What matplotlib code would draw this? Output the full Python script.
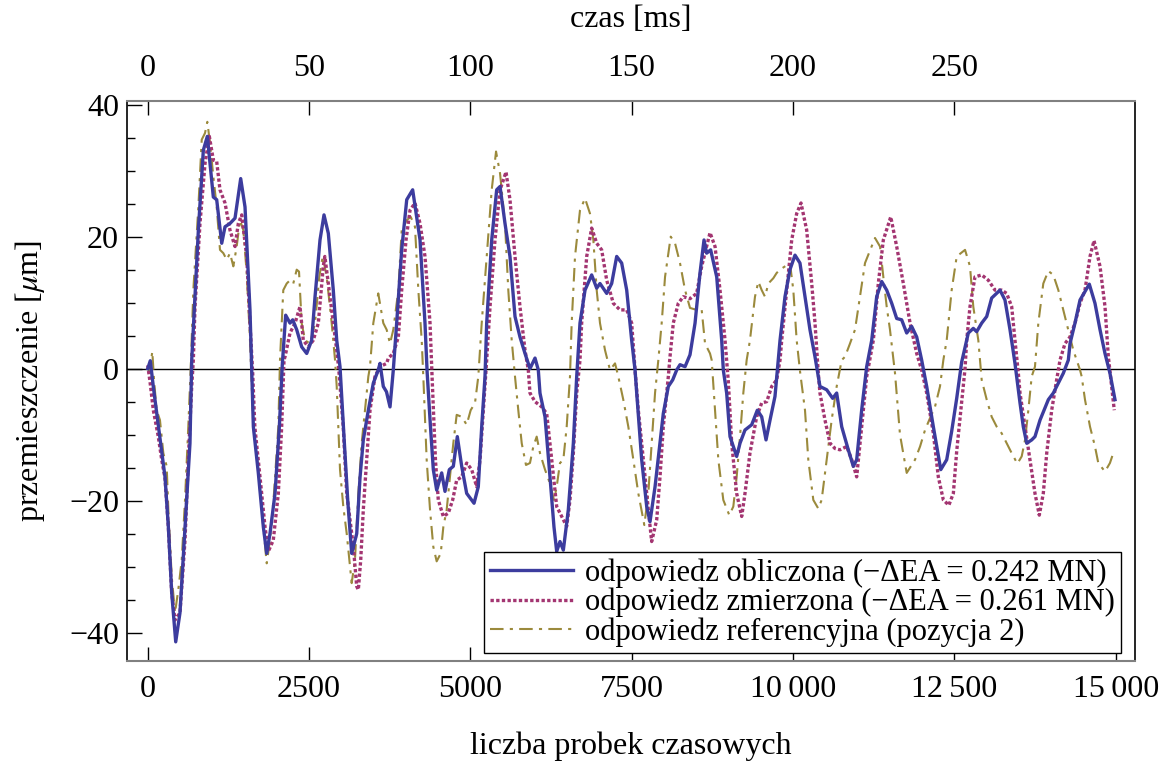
import matplotlib
matplotlib.use("Agg")
import matplotlib.pyplot as plt
from matplotlib.ticker import MultipleLocator, FuncFormatter

# probe index (samples) and displacement [um]
calc_x = [0, 40, 90, 268, 320, 372, 434, 500, 578, 655, 682, 785, 862, 924, 1017, 1069, 1147, 1198,
          1275, 1353, 1441, 1508, 1585, 1611, 1637, 1714, 1792, 1844, 1895, 1973, 2040, 2085, 2138,
          2205, 2247, 2309, 2386, 2464, 2541, 2593, 2670, 2732, 2799, 2876, 2929, 2980, 3040, 3100,
          3161, 3239, 3290, 3341, 3419, 3496, 3573, 3600, 3651, 3700, 3755, 3806, 3858, 3936, 4014,
          4106, 4220, 4297, 4330, 4380, 4426, 4478, 4556, 4607, 4674, 4736, 4798, 4866, 4943, 5057,
          5123, 5176, 5227, 5253, 5331, 5408, 5460, 5537, 5614, 5692, 5769, 5847, 5924, 6002, 6053,
          6079, 6157, 6234, 6296, 6338, 6389, 6441, 6518, 6596, 6648, 6699, 6777, 6880, 6958, 7009,
          7113, 7190, 7268, 7345, 7423, 7500, 7552, 7578, 7655, 7733, 7784, 7862, 7939, 7990, 8068,
          8136, 8198, 8249, 8327, 8404, 8482, 8559, 8621, 8662, 8724, 8818, 8895, 8920, 8972, 9024,
          9127, 9179, 9256, 9360, 9447, 9515, 9582, 9644, 9721, 9772, 9799, 9876, 9953, 10031, 10108,
          10186, 10263, 10341, 10383, 10418, 10522, 10615, 10677, 10755, 10857, 10935, 10987, 11064,
          11142, 11220, 11297, 11375, 11452, 11530, 11607, 11684, 11762, 11839, 11917, 11994, 12072,
          12175, 12290, 12382, 12459, 12537, 12614, 12717, 12794, 12846, 12924, 13002, 13079, 13208,
          13285, 13363, 13440, 13518, 13569, 13622, 13699, 13750, 13828, 13957, 14034, 14112, 14189,
          14267, 14293, 14370, 14448, 14592, 14680, 14758, 14835, 14912, 14990]
calc_y = [0, 1.2, -3.0, -16.4, -24, -34, -41.4, -37, -24, -11.3, 1.3, 21, 33.1, 35.2, 26, 25.6, 19, 21.5,
          22, 22.8, 28.8, 24.5, 8.9, 0.3, -8.8, -15.8, -24, -28, -25, -18.9, -8.8, 0.5, 8.1,
          6.9, 7.4, 5.9, 3.3, 2.3, 4.3, 10.9, 19.5, 23.3, 20.5, 11.9, 4.3, 0.3, -10, -20,
          -28, -25, -16.5, -10.8, -6.3, -2.2, -0.2, 0.8, -2.7, -3.5, -5.8, -0.2, 6.9, 18, 25.6,
          27.1, 19.5, 6.9, -0.5, -8.5, -15.3, -18.4, -15.8, -18.6, -15.3, -14.8, -10.3, -14.8, -18.9, -20.4,
          -17.9, -8.8, -1.2, 6.9, 19.5, 27.1, 27.6, 22, 17, 7.9, 4.8, 2.3, 0, 1.6, -0.2,
          -3.7, -7.3, -16.4, -24, -27.7, -26.2, -27.5, -21.4, -11.3, -1.2, 6.9, 11.9, 14.2, 12.2, 12.9,
          11.4, 12.9, 17, 16, 11.9, 4.3, -0.2, -3.7, -13.8, -20.9, -23.2, -17.9, -11.3, -6.8, -2.7,
          -1.7, -0.2, 0.6, 0.3, 2.1, 6.9, 14.5, 19.5, 17.5, 18, 13.9, 4.3, -0.2, -3.7, -10.3,
          -13.3, -11.3, -9.3, -8.5, -6.3, -7.3, -10.8, -7.8, -4.2, 1.3, 4.3, 10.9, 15, 17.2, 16,
          10.9, 5.9, 1.8, -0.7, -2.7, -3.2, -4.5, -3.7, -8.8, -12.3, -14.8, -13.8, -6.3,
          0.3, 4.3, 10.9, 13.2, 11.9, 9.9, 7.6, 7.4, 5.4, 6.4, 4.8, 1.3, -2.7,
          -8.8, -15.3, -13.8, -9.5, -4.5, 1.0, 5.4, 6.1, 5.6, 6.9, 7.9, 10.7, 11.9,
          10.4, 5.9, 0.8, -5.2, -8.8, -11.3, -10.8, -10.3, -7.8, -4.7, -3.7, -2.2, -0.7,
          1.3, 3.8, 6.9, 10.4, 12.8, 9.9, 5.9, 2.3, -0.7, -4.7]

meas_x = [0, 36, 87, 164, 217, 268, 320, 372, 423, 500, 578, 629, 682, 707, 733, 810, 888, 955, 1017,
          1069, 1120, 1198, 1275, 1353, 1404, 1457, 1534, 1585, 1627, 1660, 1740, 1818, 1869, 1946,
          2024, 2076, 2112, 2128, 2205, 2283, 2360, 2411, 2489, 2566, 2644, 2721, 2745, 2799, 2876,
          2929, 2960, 3030, 3084, 3187, 3239, 3264, 3301, 3341, 3394, 3445, 3522, 3600, 3703, 3729,
          3806, 3884, 3936, 4003, 4065, 4142, 4220, 4297, 4375, 4410, 4460, 4503, 4581, 4658, 4726,
          4788, 4866, 4943, 5021, 5098, 5150, 5201, 5253, 5305, 5382, 5460, 5553, 5614, 5692, 5769,
          5847, 5898, 5924, 6002, 6106, 6183, 6261, 6338, 6416, 6493, 6544, 6596, 6648, 6699, 6725,
          6803, 6880, 6958, 7035, 7113, 7216, 7319, 7423, 7500, 7552, 7603, 7681, 7758, 7810, 7888,
          7939, 7990, 8068, 8094, 8145, 8222, 8300, 8404, 8507, 8585, 8714, 8792, 8869, 8947, 8998,
          9050, 9127, 9205, 9256, 9333, 9437, 9515, 9593, 9670, 9747, 9799, 9825, 9902, 9980, 10057,
          10124, 10212, 10290, 10341, 10392, 10418, 10496, 10573, 10651, 10728, 10832, 10910, 10987,
          11064, 11142, 11245, 11322, 11400, 11515, 11607, 11710, 11814, 11917, 11994, 12072, 12175,
          12252, 12330, 12415, 12485, 12537, 12614, 12666, 12692, 12743, 12820, 12924, 13027, 13130,
          13234, 13311, 13389, 13440, 13492, 13518, 13596, 13673, 13750, 13817, 13879, 13932, 14009,
          14086, 14138, 14215, 14293, 14370, 14448, 14525, 14603, 14665, 14758, 14835, 14887, 14979]
meas_y = [0.5, -2.0, -6.3, -10.3, -13.8, -16.6, -24, -34, -38.1, -37, -26, -13.8, -2.7, 1.3, 9.4, 22, 31.1, 35.2, 31.6,
          31.4, 27.1, 25.1, 21, 18.5, 22, 23.3, 17, 6.9, -0.7, -8.8, -16.4, -24, -27.7, -26,
          -18.9, -8.8, 1.3, 1.8, 5.4, 6.9, 9.4, 4.3, 3.3, 4.3, 6.9, 15.5, 17, 12.9, 6.9,
          2.8, 0, -8.8, -18.9, -27, -33, -33.5, -29, -21.4, -13.8, -6.3, -1.2, 0.3, 0.8, 1.6,
          2.3, 4.8, 11.9, 19.5, 24, 25.1, 22, 17, 6.9, -2, -14, -19.9, -22.4, -21.9, -19.9,
          -16.9, -16.4, -14.3, -15.3, -17.9, -13.8, -6.3, 1.3, 9.4, 19.5, 27.1, 29.8, 25.6, 17, 9.4,
          2.8, -0.2, -3.7, -5, -5.8, -6.8, -13.8, -20.9, -22.4, -23.9, -19.9, -12.8, -3.7, 1.3, 6.9,
          17, 21.3, 19, 18, 13.4, 9.9, 8.9, 8.9, 6.9, -0.2, -6.3, -13.8, -21.4, -26.2, -22.9,
          -16.4, -8.8, -1.2, 1.8, 6.9, 9.9, 10.9, 10.6, 11.4, 15.5, 20.6, 18.5, 11.9, 4.3, -2,
          -11.3, -18.9, -22.4, -18.9, -12.8, -7.3, -5.2, -5, -2.7, -1.7, 1.3, 4.3, 11.9, 19.5, 23.5,
          25.1, 21, 12.9, 6.9, -0.7, -3.7, -7.8, -11.3, -12.1, -12.3, -11.8, -13.8, -16.4,
          -8.8, -1.2, 4.3, 12.9, 19.5, 23, 18.5, 12.9, 6.9, 2.3, -0.2, -3.7, -9.8,
          -16.4, -19.9, -20.7, -18.9, -12.5, -5, 0, 4.3, 9.4, 13.9, 14.2, 13.4, 11.9,
          11.9, 11.4, 9.4, 4.3, -0.7, -3.7, -8.8, -13.8, -18.9, -22.2, -18.9, -12.8, -6.3,
          -1.7, 1.3, 3.8, 4.8, 6.9, 9.9, 11.9, 17, 19.4, 15.5, 9.4, 1.8, -6.3]

ref_x = [0, 30, 71, 100, 139, 190, 242, 294, 320, 372, 423, 474, 527, 578, 629, 671, 707, 785, 837, 888,
         924, 965, 1017, 1069, 1120, 1172, 1224, 1275, 1327, 1379, 1430, 1482, 1534, 1585, 1637, 1699,
         1766, 1844, 1895, 1957, 2024, 2050, 2101, 2154, 2205, 2256, 2309, 2345, 2386, 2438, 2515, 2593,
         2659, 2712, 2774, 2851, 2903, 2929, 2954, 2980, 3031, 3084, 3135, 3161, 3212, 3264, 3316, 3367,
         3419, 3445, 3496, 3573, 3651, 3703, 3755, 3806, 3884, 3936, 4014, 4076, 4142, 4194, 4246, 4271,
         4323, 4375, 4426, 4478, 4541, 4581, 4633, 4684, 4736, 4788, 4866, 4943, 5005, 5072, 5123, 5176,
         5253, 5331, 5398, 5460, 5537, 5588, 5641, 5692, 5743, 5796, 5862, 5924, 5976, 6028, 6079, 6157,
         6234, 6296, 6338, 6389, 6441, 6493, 6544, 6570, 6622, 6699, 6777, 6854, 6906, 6958, 7009, 7087,
         7164, 7242, 7293, 7370, 7448, 7526, 7603, 7696, 7758, 7810, 7862, 7913, 7965, 8017, 8105, 8172,
         8249, 8327, 8404, 8507, 8585, 8637, 8714, 8740, 8792, 8843, 8920, 9013, 9075, 9127, 9179, 9230,
         9282, 9333, 9411, 9463, 9515, 9566, 9618, 9695, 9747, 9799, 9876, 9953, 10005, 10057, 10110,
         10186, 10237, 10315, 10392, 10444, 10522, 10599, 10677, 10755, 10806, 10883, 10961, 11038,
         11116, 11271, 11349, 11400, 11452, 11503, 11581, 11658, 11762, 11891, 11969, 12046, 12123,
         12200, 12278, 12330, 12382, 12459, 12537, 12666, 12743, 12794, 12872, 12924, 13002, 13079,
         13157, 13234, 13311, 13389, 13477, 13544, 13596, 13647, 13699, 13750, 13802, 13879, 13957,
         14034, 14112, 14189, 14267, 14344, 14448, 14474, 14525, 14603, 14680, 14731, 14835, 14912, 14963]
ref_y = [0, -0.5, 2.6, -2, -6.3, -7.8, -12.8, -14.8, -21.4, -31.5, -37, -33.5, -29, -19.9, -8.8, 1.3, 11.9, 24.5, 34.7, 35.7,
         37.4, 34.2, 29.1, 24.5, 18, 17.5, 16.5, 17.5, 15.5, 18.5, 22.5, 21, 14.5, 4.3, -8.8, -13.8,
         -21.4, -29.5, -26, -18.9, -8.8, 1.3, 11.9, 12.9, 13.4, 12.9, 15, 14.7, 6.9, 4.3, 3.8, 6.9,
         13.9, 17, 13.9, 6.9, 1.3, -2.7, -8.8, -15.3, -20.9, -25, -30, -32.5, -29, -18.9, -11.3, -6.3,
         -1.2, 0.3, 6.9, 11.4, 6.9, 5.9, 3.8, 5.9, 11.9, 21, 22.5, 23, 21.5, 11.9, 4.3, -1.2,
         -13.8, -21.4, -27, -29.2, -28, -24, -21.4, -16.4, -11.3, -7, -7.3, -8.5, -6.3, -5.2, -1.2, 6.9,
         17, 27.1, 32.9, 29.6, 22, 11.9, 4.3, -1.2, -6.3, -11.3, -14.6, -14.3, -11.8, -10.3, -12.8, -15.3,
         -17.4, -19.9, -17.9, -14.3, -13.8, -8.8, -1.2, 6.9, 17, 24, 25.8, 23.5, 19.5, 11.9, 6.9, 2.8,
         -0.2, 0.8, -1.2, -4.7, -8.8, -13.8, -18.9, -23.7, -18.9, -11.3, -3.7, 1.3, 6.9, 13.9, 20, 19,
         16, 11.9, 9.2, 8.9, 8.9, 3.8, 2.3, 1.3, -6.3, -13.8, -19.9, -22.2, -20.9, -16.4, -10.3, -3.7,
         1.3, 4.3, 10.9, 13.2, 11.9, 10.9, 12.9, 13.7, 14.5, 15, 15.5, 16, 11.9, 4.3, -0.5,
         -6.3, -13.8, -19.9, -21.2, -19.9, -13.8, -7.8, -2.7, 1.3, 1.8, 3.8, 5.9, 10.9,
         16, 19.8, 18.5, 13.9, 9.4, 5.9, -0.7, -10, -15.8, -13.8, -11.8, -9.3, -7.5,
         -5.8, -2.7, 1.3, 4.3, 11.9, 17, 18, 15.5, 9.4, 4.3, -1.7, -4.7, -7.3,
         -8.8, -9.8, -11.3, -12.8, -14.4, -13.3, -10.8, -6.3, -1.2, 0.3, 6.9, 12.9, 14.8,
         14.2, 11.9, 8.9, 5.9, 2.8, -0.2, -1.2, -4.7, -8.8, -11.8, -14.3, -15.6, -14.3, -12.8]

labels = ["odpowiedz obliczona (\u2212\u0394EA = 0.242 MN)",
          "odpowiedz zmierzona (\u2212\u0394EA = 0.261 MN)",
          "odpowiedz referencyjna (pozycja 2)"]

plt.rcParams['font.family'] = ['Liberation Serif', 'DejaVu Serif']
plt.rcParams['mathtext.fontset'] = 'stix'
plt.rcParams['font.size'] = 23

fig = plt.figure(figsize=(11.67, 7.63), dpi=100)
ax = fig.add_axes([0.1091, 0.1337, 0.8632, 0.7343])

ax.axhline(0, color='black', lw=1.0, zorder=1)
ax.plot(calc_x, calc_y, color='#3c3c9e', lw=2.4, label=labels[0], zorder=4)
ax.plot(meas_x, meas_y, color='#a33571', lw=2.4, ls=(0, (1.0, 0.7)), label=labels[1], zorder=3)
ax.plot(ref_x, ref_y, color='#9b8a3c', lw=1.5, ls=(0, (6.5, 3, 1.5, 3)), label=labels[2], zorder=2)

ax.set_xlim(-316, 15295)
ax.set_ylim(-44.3, 40.6)

ax.set_xticks([0, 2500, 5000, 7500, 10000, 12500, 15000])


def fmt(v, pos):
    v = int(round(v))
    if v >= 10000:
        return f"{v // 1000}\u2009{v % 1000:03d}"
    return str(v)


ax.xaxis.set_major_formatter(FuncFormatter(fmt))
ax.yaxis.set_major_locator(MultipleLocator(20))
ax.yaxis.set_minor_locator(MultipleLocator(5))
ax.yaxis.set_major_formatter(FuncFormatter(lambda v, p: f"{int(v)}".replace('-', '\u2212')))

ax.tick_params(axis='x', which='major', direction='in', length=10, width=1, pad=10, top=False)
ax.tick_params(axis='y', which='major', direction='in', length=11, width=1, pad=6, right=False)
ax.tick_params(axis='y', which='minor', direction='in', length=6, width=1, right=False)

for side in ['top', 'bottom']:
    ax.spines[side].set_color('#808080')
    ax.spines[side].set_linewidth(1.5)
for side in ['left', 'right']:
    ax.spines[side].set_color('black')
    ax.spines[side].set_linewidth(1.2)

top = ax.secondary_xaxis('top', functions=(lambda s: s / 50.0, lambda t: t * 50.0))
top.set_xticks([0, 50, 100, 150, 200, 250])
top.tick_params(direction='in', length=10, width=1, pad=13)
top.spines['top'].set_visible(False)
top.set_xlabel("czas [ms]", labelpad=19)

ax.set_xlabel("liczba probek czasowych", labelpad=20)
ax.set_ylabel(r"przemieszczenie [$\mu$m]", labelpad=16)

leg = ax.legend(loc='lower right', bbox_to_anchor=(0.9864, 0.0143), borderaxespad=0,
                fancybox=False, edgecolor='black', framealpha=1, handlelength=2.7,
                handletextpad=0.4, borderpad=0.2, labelspacing=0.0, fontsize=22)
leg.get_frame().set_linewidth(1.0)

fig.savefig("out.png", dpi=100)
